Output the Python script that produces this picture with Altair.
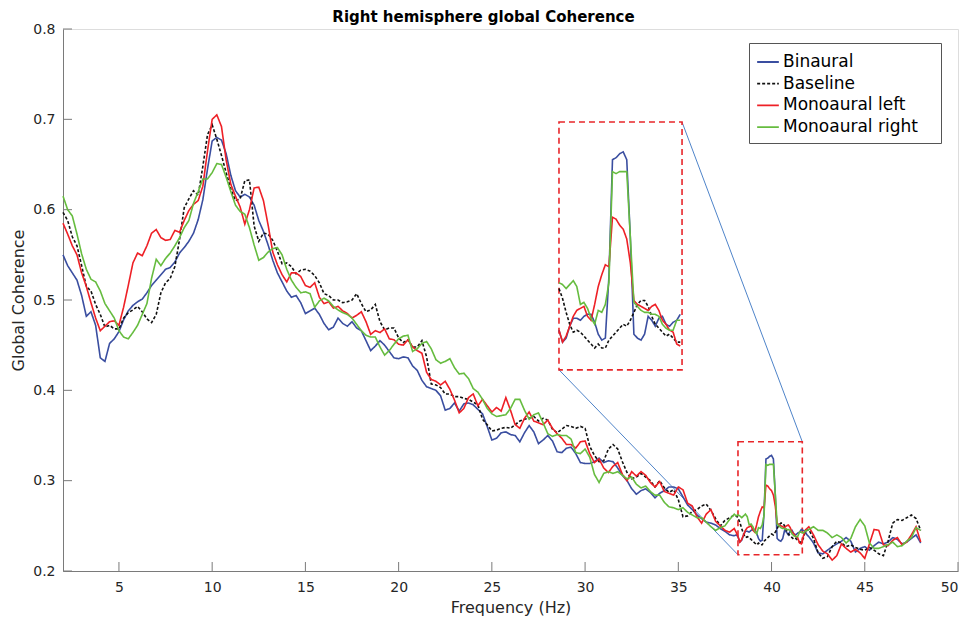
import numpy as np
import pandas as pd
import altair as alt

# Frequency grid (Hz): 0.25 Hz steps, 0.1 Hz steps around the 40 Hz stimulation peak
FREQ_MAIN = np.round(2.0 + 0.25 * np.arange(145), 2)      # 2.00 .. 38.00
FREQ_PEAK = np.round(38.1 + 0.1 * np.arange(39), 2)       # 38.1 .. 41.9
FREQ_TAIL = np.round(42.0 + 0.25 * np.arange(25), 2)      # 42.00 .. 48.00
FREQ = np.concatenate([FREQ_MAIN, FREQ_PEAK, FREQ_TAIL])

BINAURAL = [
    0.550, 0.538, 0.530, 0.522,  0.505, 0.482, 0.487, 0.472,  0.436, 0.432, 0.452, 0.457,
    0.465, 0.478, 0.488, 0.494,  0.498, 0.501, 0.508, 0.516,  0.522, 0.528, 0.534, 0.536,
    0.542, 0.552, 0.558, 0.565,  0.574, 0.589, 0.611, 0.645,  0.676, 0.680, 0.677, 0.662,
    0.638, 0.621, 0.614, 0.617,  0.614, 0.605, 0.588, 0.576,  0.561, 0.544, 0.530, 0.520,
    0.510, 0.503, 0.505, 0.497,  0.485, 0.488, 0.491, 0.484,  0.474, 0.467, 0.470, 0.480,
    0.474, 0.471, 0.476, 0.469,  0.466, 0.455, 0.444, 0.449,  0.455, 0.450, 0.443, 0.436,
    0.435, 0.437, 0.436, 0.427,  0.422, 0.411, 0.404, 0.402,  0.400, 0.394, 0.378, 0.380,
    0.386, 0.377, 0.385, 0.386,  0.384, 0.379, 0.374, 0.360,  0.345, 0.347, 0.353, 0.354,
    0.351, 0.350, 0.343, 0.353,  0.361, 0.354, 0.341, 0.345,  0.350, 0.344, 0.332, 0.331,
    0.336, 0.337, 0.330, 0.320,  0.319, 0.319, 0.321, 0.325,  0.320, 0.322, 0.321, 0.314,
    0.306, 0.300, 0.291, 0.285,  0.289, 0.291, 0.287, 0.281,  0.286, 0.289, 0.293, 0.293,
    0.291, 0.282, 0.273, 0.268,  0.262, 0.258, 0.254, 0.253,  0.251, 0.247, 0.244, 0.240,
    0.239,
    # 38.1 .. 41.9
    0.240, 0.238, 0.232, 0.234, 0.240, 0.244, 0.244, 0.243, 0.245, 0.246,
    0.246, 0.242, 0.236, 0.233, 0.234, 0.265, 0.324, 0.325, 0.327, 0.328,
    0.324, 0.285, 0.236, 0.234, 0.233, 0.236, 0.245, 0.243, 0.240, 0.244,
    0.245, 0.241, 0.240, 0.242, 0.243, 0.246, 0.245, 0.244, 0.240,
    # 42.00 .. 48.00
    0.238, 0.231, 0.220, 0.219,  0.223, 0.227, 0.230, 0.233,  0.237, 0.233, 0.221, 0.225,
    0.227, 0.223, 0.228, 0.232,  0.230, 0.232, 0.237, 0.235,  0.230, 0.232, 0.236, 0.240,
    0.231,
]

BASELINE = [
    0.597, 0.588, 0.570, 0.560,  0.538, 0.515, 0.510, 0.495,  0.484, 0.470, 0.472, 0.468,
    0.468, 0.480, 0.486, 0.489,  0.493, 0.487, 0.479, 0.475,  0.484, 0.508, 0.519, 0.524,
    0.537, 0.567, 0.602, 0.612,  0.621, 0.616, 0.648, 0.683,  0.694, 0.678, 0.660, 0.641,
    0.623, 0.610, 0.612, 0.632,  0.633, 0.582, 0.565, 0.574,  0.573, 0.566, 0.554, 0.540,
    0.541, 0.537, 0.529, 0.533,  0.534, 0.532, 0.527, 0.519,  0.507, 0.505, 0.500, 0.500,
    0.497, 0.498, 0.500, 0.507,  0.496, 0.487, 0.489, 0.495,  0.476, 0.467, 0.469, 0.469,
    0.458, 0.453, 0.456, 0.448,  0.448, 0.455, 0.437, 0.407,  0.406, 0.403, 0.396, 0.396,
    0.393, 0.393, 0.391, 0.390,  0.387, 0.384, 0.368, 0.362,  0.355, 0.356, 0.358, 0.359,
    0.358, 0.362, 0.366, 0.368,  0.369, 0.371, 0.366, 0.369,  0.367, 0.357, 0.353, 0.357,
    0.361, 0.360, 0.358, 0.360,  0.358, 0.338, 0.328, 0.321,  0.322, 0.335, 0.340, 0.335,
    0.321, 0.309, 0.302, 0.304,  0.308, 0.304, 0.300, 0.293,  0.300, 0.292, 0.287, 0.290,
    0.279, 0.260, 0.261, 0.266,  0.268, 0.272, 0.274, 0.267,  0.258, 0.250, 0.256, 0.259,
    0.262,
    # 38.1 .. 41.9
    0.261, 0.259, 0.254, 0.247, 0.241, 0.237, 0.238, 0.237, 0.235, 0.233,
    0.231, 0.229, 0.231, 0.229, 0.229, 0.233, 0.235, 0.237, 0.239, 0.241,
    0.240, 0.243, 0.247, 0.251, 0.253, 0.253, 0.250, 0.245, 0.241, 0.239,
    0.237, 0.235, 0.236, 0.234, 0.232, 0.232, 0.236, 0.243, 0.245,
    # 42.00 .. 48.00
    0.246, 0.236, 0.220, 0.214,  0.216, 0.227, 0.233, 0.231,  0.227, 0.229, 0.226, 0.224,
    0.223, 0.226, 0.223, 0.219,  0.217, 0.233, 0.253, 0.257,  0.256, 0.259, 0.262, 0.258,
    0.245,
]

MONO_LEFT = [
    0.585, 0.573, 0.560, 0.550,  0.530, 0.515, 0.497, 0.480,  0.466, 0.471, 0.476, 0.477,
    0.472, 0.492, 0.516, 0.541,  0.552, 0.549, 0.560, 0.574,  0.578, 0.569, 0.566, 0.567,
    0.577, 0.575, 0.588, 0.599,  0.606, 0.610, 0.626, 0.665,  0.700, 0.705, 0.692, 0.655,
    0.628, 0.615, 0.603, 0.584,  0.600, 0.624, 0.625, 0.610,  0.583, 0.553, 0.539, 0.528,
    0.520, 0.530, 0.530, 0.526,  0.516, 0.514, 0.519, 0.503,  0.496, 0.498, 0.491, 0.493,
    0.488, 0.485, 0.480, 0.483,  0.487, 0.476, 0.462, 0.466,  0.464, 0.468, 0.457, 0.456,
    0.451, 0.450, 0.456, 0.448,  0.444, 0.441, 0.420, 0.412,  0.410, 0.406, 0.410, 0.401,
    0.389, 0.375, 0.380, 0.392,  0.396, 0.383, 0.390, 0.383,  0.376, 0.381, 0.377, 0.392,
    0.378, 0.362, 0.358, 0.369,  0.376, 0.366, 0.364, 0.362,  0.367, 0.358, 0.352, 0.347,
    0.340, 0.340, 0.336, 0.343,  0.344, 0.330, 0.320, 0.324,  0.314, 0.309, 0.316, 0.320,
    0.307, 0.300, 0.310, 0.305,  0.310, 0.306, 0.298, 0.293,  0.299, 0.288, 0.286, 0.284,
    0.293, 0.290, 0.275, 0.272,  0.260, 0.253, 0.263, 0.268,  0.255, 0.250, 0.245, 0.243,
    0.247,
    # 38.1 .. 41.9
    0.243, 0.238, 0.232, 0.235, 0.240, 0.245, 0.248, 0.249, 0.250, 0.245,
    0.243, 0.251, 0.260, 0.266, 0.271, 0.270, 0.295, 0.294, 0.291, 0.289,
    0.284, 0.272, 0.253, 0.251, 0.250, 0.249, 0.248, 0.250, 0.251, 0.248,
    0.243, 0.241, 0.238, 0.237, 0.231, 0.230, 0.238, 0.245, 0.247,
    # 42.00 .. 48.00
    0.249, 0.240, 0.229, 0.222,  0.219, 0.212, 0.217, 0.230,  0.225, 0.221, 0.224, 0.220,
    0.214, 0.230, 0.246, 0.245,  0.229, 0.228, 0.234, 0.237,  0.229, 0.232, 0.240, 0.249,
    0.232,
]

MONO_RIGHT = [
    0.615, 0.600, 0.593, 0.573,  0.551, 0.534, 0.523, 0.520,  0.510, 0.496, 0.488, 0.480,
    0.466, 0.459, 0.457, 0.464,  0.472, 0.484, 0.496, 0.524,  0.545, 0.538, 0.546, 0.552,
    0.560, 0.569, 0.580, 0.588,  0.607, 0.620, 0.634, 0.634,  0.641, 0.651, 0.650, 0.636,
    0.620, 0.605, 0.598, 0.595,  0.580, 0.561, 0.544, 0.547,  0.553, 0.557, 0.558, 0.550,
    0.534, 0.522, 0.514, 0.508,  0.509, 0.507, 0.492, 0.499,  0.502, 0.499, 0.493, 0.489,
    0.486, 0.484, 0.480, 0.473,  0.466, 0.461, 0.459, 0.459,  0.448, 0.439, 0.444, 0.451,
    0.457, 0.460, 0.461, 0.443,  0.446, 0.452, 0.454, 0.446,  0.434, 0.430, 0.432, 0.435,
    0.425, 0.418, 0.419, 0.413,  0.402, 0.398, 0.390, 0.380,  0.374, 0.371, 0.372, 0.373,
    0.380, 0.390, 0.390, 0.378,  0.368, 0.373, 0.375, 0.364,  0.352, 0.349, 0.351, 0.350,
    0.350, 0.346, 0.331, 0.330,  0.335, 0.326, 0.307, 0.298,  0.308, 0.310, 0.308, 0.310,
    0.306, 0.302, 0.304, 0.296,  0.292, 0.294, 0.288, 0.284,  0.284, 0.276, 0.271, 0.270,
    0.268, 0.270, 0.265, 0.262,  0.259, 0.259, 0.254, 0.249,  0.245, 0.248, 0.250, 0.257,
    0.263,
    # 38.1 .. 41.9
    0.261, 0.262, 0.261, 0.259, 0.261, 0.263, 0.260, 0.251, 0.252, 0.249,
    0.244, 0.241, 0.248, 0.247, 0.251, 0.262, 0.318, 0.317, 0.318, 0.318,
    0.318, 0.285, 0.252, 0.250, 0.248, 0.247, 0.247, 0.246, 0.246, 0.245,
    0.241, 0.239, 0.238, 0.238, 0.243, 0.243, 0.242, 0.244, 0.245,
    # 42.00 .. 48.00
    0.246, 0.249, 0.245, 0.245,  0.242, 0.237, 0.240, 0.237,  0.231, 0.236, 0.249, 0.257,
    0.250, 0.231, 0.225, 0.225,  0.227, 0.229, 0.232, 0.227,  0.228, 0.233, 0.237, 0.248,
    0.245,
]

SERIES = ["Binaural", "Baseline", "Monoaural left", "Monoaural right"]
VALUES = [BINAURAL, BASELINE, MONO_LEFT, MONO_RIGHT]
COLORS = ["#3a4ea0", "#111111", "#ee2026", "#66bc3f"]
DASHES = [[1, 0], [3, 2], [1, 0], [1, 0]]

# zoomed window around 40 Hz and where its magnified copy sits on the axes
ZOOM = {"x0": 38.2, "x1": 41.65, "y0": 0.218, "y1": 0.343}
INSET = {"x0": 28.6, "x1": 35.2, "y0": 0.4227, "y1": 0.697}

X_TICKS = [5, 10, 15, 20, 25, 30, 35, 40, 45, 50]
Y_TICKS = [0.2, 0.3, 0.4, 0.5, 0.6, 0.7, 0.8]

rows = []
for name, vals in zip(SERIES, VALUES):
    assert len(vals) == len(FREQ), (name, len(vals))
    for f, v in zip(FREQ, vals):
        rows.append({"f": float(f), "value": v, "series": name})
df = pd.DataFrame(rows)

W, H = 895, 542
FONT = "DejaVu Sans"

x_scale = alt.Scale(domain=[2, 50], nice=False, zero=False)
y_scale = alt.Scale(domain=[0.2, 0.8], nice=False, zero=False)
x_axis = alt.Axis(values=X_TICKS, ticks=False, grid=False, format="d",
                  domainColor="#7a7a7a", labelColor="#262626", labelFontSize=14,
                  labelPadding=9, labelFont=FONT, title="Frequency (Hz)",
                  titleFontWeight="normal", titleFontSize=16, titleFont=FONT,
                  titleColor="#262626", titlePadding=5)
y_axis = alt.Axis(values=Y_TICKS, ticks=False, grid=False, format=".1f",
                  domainColor="#7a7a7a", labelColor="#262626", labelFontSize=14,
                  labelPadding=8, labelFont=FONT, title="Global Coherence",
                  titleFontWeight="normal", titleFontSize=16, titleFont=FONT,
                  titleColor="#262626", titlePadding=6)

# a thin space plus a blank braille cell keep empty room right of the legend labels
legend = alt.Legend(orient="none", legendX=686, legendY=14, title=None,
                    symbolType="stroke", symbolSize=471, symbolStrokeWidth=1.8,
                    labelFontSize=17, labelFont=FONT, labelColor="#000000",
                    labelExpr="datum.label + '\u2009\u2800'",
                    labelOffset=3, padding=7, rowPadding=1.7,
                    strokeColor="#555555", fillColor="#ffffff")
color = alt.Color("series:N", scale=alt.Scale(domain=SERIES, range=COLORS),
                  legend=legend, title=None)
dash = alt.StrokeDash("series:N", scale=alt.Scale(domain=SERIES, range=DASHES),
                      legend=legend, title=None)

base = alt.Chart(df)

main_layers = []
inset_layers = []
kx = (INSET["x1"] - INSET["x0"]) / (ZOOM["x1"] - ZOOM["x0"])
ky = (INSET["y1"] - INSET["y0"]) / (ZOOM["y1"] - ZOOM["y0"])
for name in SERIES:
    main_layers.append(
        base.transform_filter(alt.datum.series == name)
        .mark_line(strokeWidth=1.6)
        .encode(x=alt.X("f:Q", scale=x_scale, axis=x_axis),
                y=alt.Y("value:Q", scale=y_scale, axis=y_axis),
                color=color, strokeDash=dash)
    )
    inset_layers.append(
        base.transform_filter(alt.datum.series == name)
        .transform_filter(f"datum.f >= {ZOOM['x0']} && datum.f <= 41.6")
        .transform_calculate(
            fx=f"{INSET['x0']} + (datum.f - {ZOOM['x0']}) * {kx}",
            vy=f"{INSET['y0']} + (datum.value - {ZOOM['y0']}) * {ky}")
        .mark_line(strokeWidth=1.6)
        .encode(x=alt.X("fx:Q", scale=x_scale, axis=x_axis),
                y=alt.Y("vy:Q", scale=y_scale, axis=y_axis),
                color=color, strokeDash=dash)
    )

boxes = pd.DataFrame([
    {"x0": ZOOM["x0"], "x1": ZOOM["x1"], "y0": ZOOM["y0"], "y1": ZOOM["y1"]},
    {"x0": INSET["x0"], "x1": INSET["x1"], "y0": INSET["y0"], "y1": INSET["y1"]},
])
box_layer = alt.Chart(boxes).mark_rect(
    fillOpacity=0, stroke="#e8262a", strokeWidth=1.6, strokeDash=[6, 4]
).encode(x=alt.X("x0:Q", scale=x_scale, axis=x_axis), x2="x1:Q",
         y=alt.Y("y0:Q", scale=y_scale, axis=y_axis), y2="y1:Q")

links = pd.DataFrame([
    {"xa": INSET["x1"], "ya": INSET["y1"], "xb": ZOOM["x1"], "yb": ZOOM["y1"]},
    {"xa": INSET["x0"], "ya": INSET["y0"], "xb": ZOOM["x0"], "yb": ZOOM["y0"]},
])
link_layer = alt.Chart(links).mark_rule(color="#4f84c9", strokeWidth=1).encode(
    x=alt.X("xa:Q", scale=x_scale, axis=x_axis), x2="xb:Q",
    y=alt.Y("ya:Q", scale=y_scale, axis=y_axis), y2="yb:Q")

# inward-pointing tick marks along the left and bottom axes
xt = alt.Chart(pd.DataFrame({"t": X_TICKS})).mark_rule(color="#7a7a7a").encode(
    x=alt.X("t:Q", scale=x_scale, axis=x_axis), y=alt.value(H), y2=alt.value(H - 9))
yt = alt.Chart(pd.DataFrame({"t": Y_TICKS})).mark_rule(color="#7a7a7a").encode(
    y=alt.Y("t:Q", scale=y_scale, axis=y_axis), x=alt.value(0), x2=alt.value(9))

chart = alt.layer(
    xt, yt, link_layer, box_layer, *main_layers, *inset_layers
).properties(
    width=W, height=H,
    title=alt.TitleParams("Right hemisphere global Coherence", font=FONT,
                          fontSize=15, fontWeight="bold", color="#000000",
                          anchor="middle", dx=-27, offset=-3),
    autosize=alt.AutoSizeParams(type="none"),
    padding={"left": 63, "top": 29, "right": 11, "bottom": 52},
).configure_view(stroke=None).configure(background="#ffffff")

chart.save("out.html", embed_options={"renderer": "svg", "actions": False})
